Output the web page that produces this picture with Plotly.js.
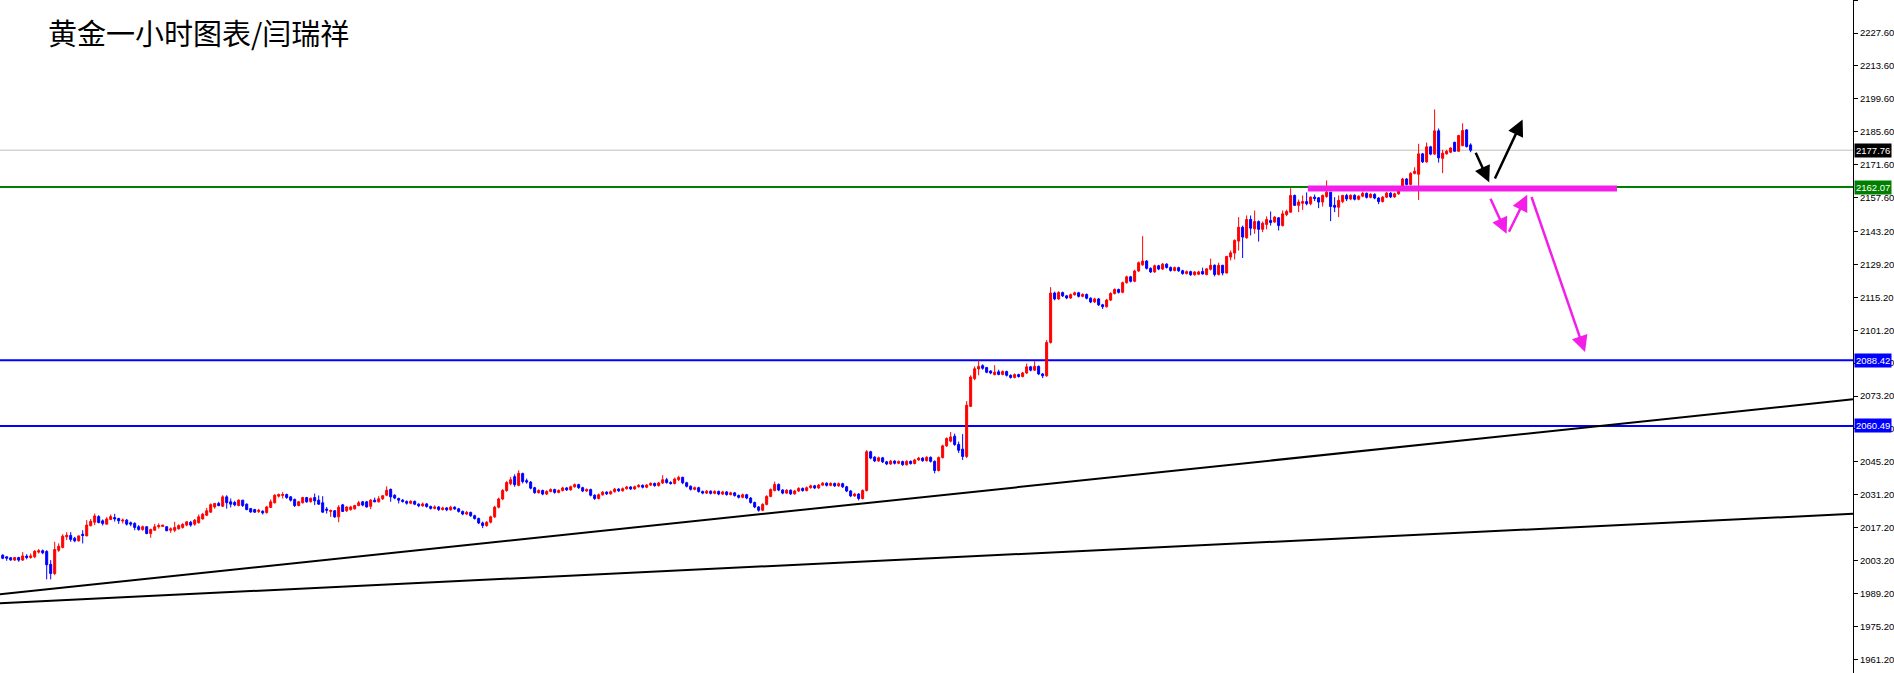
<!DOCTYPE html>
<html>
<head>
<meta charset="utf-8">
<script src="https://cdn.plot.ly/plotly-3.0.1.min.js"></script>
<style>html,body{margin:0;padding:0;background:#fff;}#chart{width:1894px;height:673px;}</style>
</head>
<body>
<div id="chart"></div>
<script>
// ---- Data ----
const chartTitle = "黄金一小时图表/闫瑞祥";
// hourly candles: [open, high, low, close], consecutive bars
const bars_000 = [
[2005.5,2005.9,2003.8,2004.2],[2004.8,2005.1,2003.1,2004.2],[2004.4,2004.7,2003.1,2003.5],[2003.4,2004.7,2003.1,2004.5],
[2004.5,2004.8,2002.7,2003.4],[2003.4,2006.8,2003.1,2005.2],[2005.1,2005.9,2003.7,2004.5],[2004.5,2006.2,2004.0,2005.2],
[2004.8,2007.6,2004.2,2007.2],[2006.8,2008.1,2006.2,2007.4],[2007.4,2007.9,2005.9,2006.5],[2007.1,2007.6,1995.2,2001.4],
[2001.6,2003.4,1995.2,1997.7],[1997.7,2011.2,1997.0,2007.9],[2007.6,2010.5,2006.9,2009.3],[2008.8,2014.4,2008.4,2013.6],
[2013.3,2015.3,2011.9,2014.0],[2013.9,2015.3,2011.2,2012.2],[2012.7,2013.3,2011.0,2011.6],[2011.6,2013.9,2011.3,2013.7],
[2014.4,2016.1,2010.5,2013.9],[2013.7,2020.4,2013.6,2018.3],[2018.0,2020.9,2017.8,2019.9],[2019.5,2023.2,2018.3,2022.2],
[2021.9,2022.5,2019.0,2019.4],[2020.1,2020.7,2018.1,2019.0],[2018.7,2021.7,2018.6,2020.9],[2020.7,2022.8,2020.4,2021.9],
[2021.5,2023.1,2019.8,2020.9],[2021.1,2021.4,2018.8,2020.1],[2020.0,2021.1,2019.0,2020.4],[2020.4,2020.9,2018.1,2018.7],
[2019.3,2019.8,2017.8,2018.7],[2019.0,2019.5,2016.1,2017.3],[2017.6,2018.3,2015.9,2016.4],[2016.4,2018.1,2015.9,2017.6],
[2017.6,2017.7,2014.4,2014.7],[2014.7,2016.8,2012.9,2016.4],[2016.1,2018.8,2015.9,2017.6],[2017.6,2019.0,2016.8,2018.1],
[2017.7,2018.4,2017.6,2018.3],[2017.6,2017.8,2015.7,2015.9],[2016.1,2017.3,2015.0,2016.7],[2016.1,2019.7,2015.3,2017.3],
[2016.7,2018.6,2016.4,2018.1],[2017.3,2019.1,2016.8,2018.6],[2018.3,2019.9,2017.8,2019.7],[2019.5,2020.1,2017.6,2018.3],
[2018.7,2020.9,2018.0,2020.4],[2019.3,2022.8,2019.0,2021.8],[2020.9,2023.5,2020.7,2022.9],[2022.5,2025.6,2022.1,2024.4],
[2023.8,2027.5,2023.5,2027.0],[2026.0,2027.7,2025.3,2027.5],[2027.5,2028.2,2026.3,2026.6],[2026.3,2031.0,2026.0,2030.3],
[2030.3,2031.0,2025.3,2027.8],[2028.2,2029.6,2025.8,2027.2],[2027.9,2028.6,2026.3,2026.9],[2026.6,2029.2,2026.3,2028.9],
[2028.9,2029.0,2026.0,2026.6],[2027.2,2027.5,2024.6,2024.9],[2025.3,2025.6,2023.5,2023.9],[2024.9,2025.2,2023.5,2023.8],
[2024.1,2025.2,2023.4,2024.6],[2024.2,2024.6,2022.8,2023.5],[2023.6,2026.5,2023.2,2026.0],[2025.8,2029.2,2025.5,2028.2],
[2027.8,2031.4,2027.5,2031.0],[2030.6,2031.7,2030.0,2031.3],[2030.9,2032.3,2029.6,2031.3],[2031.3,2031.7,2029.5,2030.0],
[2030.3,2030.6,2028.3,2028.9],[2029.2,2029.6,2026.0,2026.6],[2026.6,2028.6,2026.3,2028.2],[2027.8,2030.3,2027.5,2030.0],
[2030.0,2030.3,2027.8,2028.2],[2028.3,2030.0,2027.8,2029.7],[2030.0,2031.7,2026.8,2028.6],[2028.9,2030.9,2026.9,2027.2],
[2027.8,2030.6,2023.6,2023.8],[2025.1,2026.0,2023.2,2024.6],[2024.1,2024.9,2021.8,2024.5],[2024.4,2024.6,2021.4,2021.8],
[2021.8,2026.8,2019.5,2025.9],[2026.9,2027.3,2023.9,2024.1],[2024.4,2026.3,2023.9,2026.0],[2024.9,2026.5,2024.4,2026.0],
[2025.2,2026.9,2024.9,2026.6],[2026.6,2028.6,2026.3,2027.8],[2028.2,2028.6,2026.3,2026.8],[2028.2,2028.6,2025.8,2026.0],
[2026.3,2029.3,2025.1,2028.9],[2028.9,2030.0,2028.0,2028.2],[2028.2,2030.6,2027.9,2029.5]
];
const bars_095 = [
[2029.5,2031.0,2029.0,2030.8],[2031.0,2034.8,2030.6,2033.1],[2033.5,2033.8,2028.2,2030.3],[2031.0,2031.4,2029.3,2029.8],
[2029.6,2030.0,2027.5,2028.9],[2028.9,2029.4,2027.9,2028.3],[2028.3,2028.8,2027.0,2027.6],[2027.6,2028.9,2027.2,2028.4],
[2028.4,2028.7,2026.8,2027.2],[2027.2,2027.6,2025.9,2026.5],[2026.5,2027.9,2026.1,2027.3],[2027.3,2027.7,2025.7,2026.2],
[2026.2,2026.6,2024.9,2025.4],[2025.4,2026.7,2025.0,2026.0],[2026.0,2026.4,2024.3,2024.9],[2024.9,2026.1,2024.5,2025.6],
[2025.6,2026.0,2024.2,2024.8],[2024.8,2026.5,2024.4,2025.9],[2025.9,2026.3,2024.7,2025.2],[2025.2,2025.6,2023.6,2024.1],
[2024.1,2024.5,2022.5,2023.0],[2023.0,2024.3,2022.6,2023.7],[2023.7,2024.0,2021.8,2022.3],[2022.3,2022.7,2020.6,2021.1],
[2021.1,2021.5,2018.7,2019.2],[2019.2,2019.8,2017.0,2018.1],[2018.1,2020.0,2017.6,2019.5],[2019.5,2022.3,2019.0,2021.8],
[2021.8,2026.5,2021.3,2025.9],[2025.9,2030.0,2025.4,2029.4],[2029.4,2033.6,2028.9,2033.0],[2033.0,2037.0,2032.5,2036.4],
[2035.9,2038.8,2035.2,2037.6],[2038.9,2039.9,2034.6,2035.5],[2035.2,2041.6,2034.8,2040.3],[2040.2,2040.6,2036.0,2036.8],
[2037.2,2038.1,2035.9,2036.6],[2036.6,2037.0,2033.5,2034.0],[2034.2,2034.6,2031.6,2032.1],[2032.1,2033.5,2031.7,2033.0],
[2033.0,2033.4,2031.0,2031.5],[2031.5,2033.1,2031.1,2032.6],[2032.6,2033.9,2032.2,2033.4],[2033.4,2033.8,2031.7,2032.2],
[2032.2,2033.5,2031.8,2033.0],[2033.0,2034.6,2032.6,2034.1],[2034.1,2034.5,2032.8,2033.3],[2033.3,2035.1,2032.9,2034.6],
[2034.6,2036.0,2034.2,2035.5],[2035.5,2035.9,2033.7,2034.2],[2034.2,2034.6,2032.3,2032.8],[2032.8,2033.9,2032.4,2033.4],
[2033.4,2033.8,2030.5,2031.0],[2031.0,2031.4,2029.0,2029.6],[2029.6,2031.7,2029.2,2031.2],[2031.2,2032.8,2030.8,2032.3],
[2032.3,2032.7,2031.1,2031.6],[2031.6,2033.0,2031.2,2032.5],[2032.5,2034.1,2032.1,2033.6],[2033.6,2034.0,2032.4,2032.9],
[2032.9,2034.3,2032.5,2033.8],[2033.8,2035.0,2033.4,2034.5],[2034.5,2034.9,2033.2,2033.7],[2033.7,2035.1,2033.3,2034.6],
[2034.6,2035.7,2034.2,2035.2],[2035.2,2035.6,2033.9,2034.4],[2034.4,2035.8,2034.0,2035.3],[2035.3,2036.5,2034.9,2036.0],
[2036.0,2036.4,2034.6,2035.1],[2035.1,2036.7,2034.7,2036.2],[2036.2,2039.5,2035.8,2037.6],[2037.6,2038.4,2035.9,2036.4],
[2036.4,2037.0,2035.5,2036.0],[2036.0,2038.5,2035.6,2037.9],[2037.6,2039.3,2037.0,2038.6],[2038.6,2038.9,2035.7,2036.3],
[2036.3,2036.7,2034.3,2034.8],[2034.8,2035.2,2033.0,2033.5],[2033.5,2034.7,2033.1,2034.2],[2034.2,2034.6,2032.1,2032.6],
[2032.6,2033.0,2031.4,2031.9],[2031.9,2033.2,2031.5,2032.7],[2032.7,2033.1,2031.3,2031.8],[2031.8,2033.1,2031.4,2032.6],
[2032.6,2033.0,2031.0,2031.5],[2031.5,2032.9,2031.1,2032.4],[2032.4,2032.8,2030.8,2031.3],[2031.3,2032.5,2030.9,2032.0],
[2032.0,2032.4,2030.4,2030.9],[2030.9,2031.3,2029.6,2030.1],[2030.1,2031.7,2029.7,2031.2],[2031.2,2031.6,2029.3,2029.8],
[2029.8,2030.2,2027.4,2027.9],[2027.9,2028.3,2025.5,2026.0],[2026.0,2026.4,2024.0,2024.6],[2024.6,2027.6,2024.2,2027.1],
[2027.1,2031.0,2026.7,2030.5],[2030.5,2033.9,2030.1,2033.4],[2033.0,2036.8,2032.6,2035.6],[2035.6,2036.0,2032.7,2033.2],
[2033.2,2033.6,2031.4,2031.9],[2031.9,2033.6,2031.5,2033.1],[2033.1,2033.5,2031.1,2031.6],[2031.6,2033.3,2031.2,2032.8],
[2032.8,2034.4,2032.4,2033.9],[2033.9,2034.3,2032.5,2033.0],[2033.0,2034.7,2032.6,2034.2],[2034.2,2035.5,2033.8,2035.0],
[2035.0,2035.4,2033.6,2034.1],[2034.1,2035.8,2033.7,2035.3],[2035.3,2036.6,2034.9,2036.1],[2036.1,2036.5,2034.7,2035.2],
[2035.2,2036.5,2034.8,2036.0],[2036.0,2036.4,2034.5,2035.0],[2035.0,2036.4,2034.6,2035.9],[2035.9,2036.3,2034.1,2034.6],
[2034.6,2035.0,2032.3,2032.8],[2032.8,2033.2,2030.2,2030.7],[2030.7,2032.0,2030.3,2031.5],[2031.5,2031.9,2028.8,2029.6],
[2029.6,2033.5,2029.2,2033.0],[2033.0,2050.2,2032.6,2049.5],[2049.5,2049.9,2046.3,2046.8],[2047.2,2047.6,2045.1,2045.6],
[2045.6,2047.4,2045.2,2046.9],[2046.9,2047.3,2044.7,2045.2],[2045.2,2045.6,2043.8,2044.3],[2044.3,2046.0,2043.9,2045.5],
[2045.5,2045.9,2044.1,2044.6],[2044.6,2045.8,2044.2,2045.3],[2045.3,2045.7,2043.5,2044.0],[2044.0,2045.9,2043.6,2045.4],
[2045.4,2045.8,2044.0,2044.5],[2044.5,2046.5,2044.1,2046.0],[2046.0,2047.3,2045.6,2046.8],[2046.8,2047.2,2045.2,2045.7],
[2045.7,2047.6,2045.3,2047.1],[2047.1,2047.5,2044.9,2045.4],[2045.4,2045.8,2040.3,2041.5],[2041.5,2047.5,2041.1,2047.0],
[2047.0,2052.5,2046.6,2052.0],[2052.0,2055.6,2051.5,2055.1],[2054.0,2057.9,2053.5,2055.8],[2056.1,2057.2,2052.0,2052.6],
[2052.6,2053.8,2049.0,2050.1],[2050.6,2057.0,2046.0,2047.5],[2047.5,2071.0,2046.8,2069.3],[2068.8,2082.0,2068.5,2081.3],
[2080.6,2085.8,2079.9,2084.8],[2084.7,2088.4,2082.0,2085.8],[2086.1,2086.7,2084.4,2085.0],[2085.3,2085.6,2082.9,2083.3],
[2083.8,2084.2,2082.5,2083.0],[2082.3,2086.3,2082.0,2083.3],[2083.5,2084.4,2082.0,2082.4],[2082.4,2084.1,2082.0,2083.6],
[2083.6,2084.0,2081.5,2082.0],[2082.0,2082.4,2080.6,2081.1],[2081.1,2082.8,2080.7,2082.3],[2082.3,2082.7,2081.0,2081.5],
[2081.5,2083.5,2081.1,2083.0],[2083.0,2087.0,2082.6,2085.6],[2085.6,2086.0,2083.7,2084.2],[2084.2,2088.0,2083.8,2085.8],
[2085.8,2086.2,2082.1,2082.6],[2082.6,2083.0,2080.8,2081.8],[2081.8,2097.0,2081.4,2096.0],[2096.0,2119.5,2095.5,2117.0],
[2117.0,2117.6,2113.9,2114.5],[2114.5,2117.8,2114.1,2117.2],[2117.2,2117.6,2115.3,2115.8],[2115.8,2116.2,2114.4,2114.9],
[2114.9,2116.8,2114.5,2116.3],[2116.3,2117.6,2115.9,2117.1],[2117.1,2117.5,2115.1,2115.6],[2115.6,2116.9,2115.2,2116.4],
[2116.4,2116.8,2114.3,2114.8],[2114.8,2115.2,2112.7,2113.2],[2113.2,2115.0,2112.8,2114.5],[2114.5,2114.9,2111.5,2112.0],
[2112.0,2112.4,2110.2,2111.2],[2111.2,2114.5,2110.8,2114.0],[2114.0,2117.3,2113.6,2116.8],[2116.8,2119.0,2116.4,2118.5],
[2118.5,2118.9,2116.8,2117.3],[2117.3,2121.9,2116.9,2121.4],[2121.4,2124.4,2121.0,2123.9],[2123.9,2124.3,2121.5,2122.0],
[2122.0,2126.9,2121.6,2126.4],[2126.4,2130.4,2126.0,2129.9],[2129.0,2141.2,2128.6,2130.6],[2130.6,2131.0,2127.0,2127.5],
[2127.5,2127.9,2125.5,2126.0],[2126.0,2129.1,2125.6,2128.6],[2128.6,2129.0,2126.7,2127.2],[2127.2,2129.8,2126.8,2129.3],
[2129.3,2129.7,2127.4,2127.9],[2127.9,2128.3,2126.1,2126.6],[2126.6,2128.3,2126.2,2127.8],[2127.8,2128.2,2126.0,2126.5],
[2126.5,2126.9,2124.8,2125.3],[2125.3,2126.6,2124.9,2126.1],[2126.1,2126.5,2124.3,2124.8],[2124.8,2126.4,2124.4,2125.9],
[2125.0,2126.5,2124.6,2126.0]
];
const bars_300 = [
[2126.2,2127.8,2124.9,2125.1],[2124.9,2127.6,2124.5,2127.3],[2127.1,2131.6,2126.6,2128.8],[2128.8,2129.2,2124.1,2124.9],
[2124.9,2129.9,2124.5,2128.8],[2128.8,2129.0,2124.5,2125.5],[2125.5,2132.7,2125.4,2132.6],[2132.3,2135.1,2130.9,2134.1],
[2134.0,2139.8,2131.3,2139.4],[2139.1,2149.3,2135.1,2145.0],[2145.0,2145.7,2131.9,2140.8],[2140.5,2150.0,2140.1,2148.3],
[2148.3,2150.0,2141.5,2144.6],[2144.3,2152.1,2142.2,2147.4],[2147.4,2147.9,2138.9,2144.1],[2144.1,2147.4,2142.9,2146.7],
[2146.2,2149.6,2144.1,2148.3],[2147.9,2151.7,2145.7,2147.0],[2147.2,2149.7,2146.9,2149.3],[2149.0,2149.3,2143.6,2145.7],
[2145.7,2152.1,2145.3,2150.7],[2150.4,2152.5,2149.7,2151.7],[2151.4,2161.6,2151.1,2158.5],[2158.5,2158.9,2154.1,2154.3],
[2154.3,2156.8,2151.4,2155.7],[2155.2,2158.5,2152.4,2155.9],[2155.9,2159.8,2154.3,2155.0],[2155.0,2158.1,2154.3,2157.8],
[2157.8,2158.9,2156.1,2157.2],[2157.5,2157.8,2153.1,2155.7],[2155.7,2158.9,2153.8,2158.5],[2158.1,2164.9,2157.5,2159.9],
[2159.9,2160.0,2147.6,2153.8],[2154.3,2157.8,2151.4,2153.5],[2153.5,2158.5,2149.3,2156.4],[2155.9,2158.8,2155.2,2158.5],
[2158.5,2159.2,2156.1,2157.0]
];
const bars_337 = [
[2157.0,2158.9,2156.5,2158.6],[2158.6,2159.0,2156.4,2156.9],[2156.9,2158.6,2156.5,2158.2],[2158.2,2160.1,2157.8,2159.4],
[2159.4,2159.8,2157.2,2157.7],[2157.7,2159.5,2157.3,2159.0],[2159.0,2159.4,2156.9,2157.4],[2157.4,2157.8,2154.8,2155.9],
[2155.9,2158.3,2155.5,2157.8],[2157.8,2160.0,2157.4,2159.5],[2159.5,2159.9,2157.4,2157.9],[2157.9,2159.7,2157.5,2159.2],
[2159.2,2162.3,2158.8,2161.8],[2161.8,2166.0,2161.4,2165.5],[2165.5,2165.9,2162.7,2163.2],[2163.2,2168.4,2162.8,2167.9],
[2167.9,2170.5,2167.5,2168.8],[2167.5,2180.5,2156.6,2176.2],[2176.2,2176.6,2172.3,2172.8],[2172.8,2181.0,2172.4,2179.2],
[2179.2,2179.6,2175.6,2176.1],[2176.1,2195.1,2175.7,2186.0],[2186.0,2187.0,2172.5,2174.5]
];
const bars_360 = [
[2174.3,2177.9,2168.0,2176.5],[2176.2,2177.9,2175.9,2177.3],[2176.9,2179.0,2176.5,2178.7],[2181.1,2181.4,2177.2,2177.3],
[2177.3,2184.3,2177.2,2184.0],[2179.7,2189.2,2179.4,2186.1],[2186.4,2186.7,2178.9,2179.3],[2180.0,2180.7,2176.9,2177.76]
];

// horizontal levels
const currentPrice = 2177.76;
const greenLevel = 2162.07;
const blueLevels = [2088.42, 2060.49];
// trend lines: [x0, y0, x1, y1] in bar index / price
const trendLines = [[-0.675, 1988.9, 462.6, 2071.8], [-0.675, 1985.1, 462.6, 2023.1]];
// magenta zone bar
const magentaBar = [326.3, 2161.45, 403.6, 2161.45];
// arrows: [tailX, tailY, headX, headY]
const blackArrows = [[368.1, 2177.3, 371.65, 2164.1], [372.9, 2165.1, 380.0, 2190.8]];
const magentaArrows = [[371.8, 2157.75, 376.0, 2142.2], [376.4, 2142.45, 381.15, 2158.8], [382.1, 2158.5, 395.6, 2091.9]];
// y-axis tick labels
const yTicks = [2241.60, 2227.60, 2213.60, 2199.60, 2185.60, 2171.60, 2157.60, 2143.20, 2129.20, 2115.20, 2101.20,
  2087.20, 2073.20, 2059.20, 2045.20, 2031.20, 2017.20, 2003.20, 1989.20, 1975.20, 1961.20];

// ---- Build ----
const allBars = [].concat(bars_000, bars_095, bars_300, bars_337, bars_360);
const X = allBars.map((r, i) => i);
const O = allBars.map(r => r[0]), H = allBars.map(r => r[1]), L = allBars.map(r => r[2]), C = allBars.map(r => r[3]);

const MAG = '#f41ee9';
const traces = [];
trendLines.forEach(t => traces.push({type: 'scatter', mode: 'lines', x: [t[0], t[2]], y: [t[1], t[3]],
  line: {color: '#000000', width: 2}, hoverinfo: 'skip'}));
traces.push({
  type: 'candlestick', x: X, open: O, high: H, low: L, close: C,
  increasing: {line: {color: '#ff0000', width: 1}, fillcolor: '#ff0000'},
  decreasing: {line: {color: '#0000ff', width: 1}, fillcolor: '#0000ff'},
  whiskerwidth: 0, hoverinfo: 'skip'
});
traces.push({type: 'scatter', mode: 'lines', x: [magentaBar[0], magentaBar[2]], y: [magentaBar[1], magentaBar[3]],
  line: {color: MAG, width: 6}, hoverinfo: 'skip'});

const shapes = [];
shapes.push({type: 'line', xref: 'paper', x0: 0, x1: 1, yref: 'y', y0: currentPrice, y1: currentPrice,
  line: {color: '#c0c0c0', width: 1}, layer: 'below'});
shapes.push({type: 'line', xref: 'paper', x0: 0, x1: 1, yref: 'y', y0: greenLevel, y1: greenLevel,
  line: {color: '#008000', width: 2}, layer: 'below'});
blueLevels.forEach(v => shapes.push({type: 'line', xref: 'paper', x0: 0, x1: 1, yref: 'y', y0: v, y1: v,
  line: {color: '#0000ff', width: 2}, layer: 'below'}));

const lblFont = {family: 'Liberation Sans, Arial, sans-serif', size: 9.5, color: '#ffffff'};
const annotations = [];
function levelLabel(v, bg) {
  annotations.push({xref: 'paper', x: 1, xanchor: 'left', xshift: 1, yref: 'y', y: v, yanchor: 'middle',
    text: v.toFixed(2), showarrow: false, bgcolor: bg, font: lblFont, borderpad: 1});
}
levelLabel(currentPrice, '#000000');
levelLabel(greenLevel, '#008000');
blueLevels.forEach(v => levelLabel(v, '#0000ff'));

function arrow(a, color) {
  annotations.push({xref: 'x', yref: 'y', axref: 'x', ayref: 'y', x: a[2], y: a[3], ax: a[0], ay: a[1],
    showarrow: true, text: '', arrowcolor: color, arrowwidth: 2.5, arrowhead: 2, arrowsize: 1.3, standoff: 0, startstandoff: 0});
}
blackArrows.forEach(a => arrow(a, '#000000'));
magentaArrows.forEach(a => arrow(a, MAG));

annotations.push({xref: 'paper', yref: 'paper', x: 46 / 1853, y: 1 - 31.5 / 673, xanchor: 'left', yanchor: 'middle',
  text: chartTitle, showarrow: false, font: {family: 'Noto Sans CJK SC, sans-serif', size: 29, color: '#000000'}});

const layout = {
  width: 1894, height: 673,
  margin: {l: 0, r: 41, t: 0, b: 0, pad: 0},
  paper_bgcolor: '#ffffff', plot_bgcolor: '#ffffff',
  showlegend: false,
  boxgap: 0.5, boxgroupgap: 0,
  xaxis: {range: [-0.675, 462.6], visible: false, showgrid: false, zeroline: false, rangeslider: {visible: false}, fixedrange: true},
  yaxis: {range: [1955.38, 2241.65], side: 'right', showgrid: false, zeroline: false, showline: true, linecolor: '#000000', linewidth: 1,
    ticks: 'outside', ticklen: 4, tickcolor: '#000000', tickwidth: 1,
    tickvals: yTicks, ticktext: yTicks.map(v => v.toFixed(2)),
    tickfont: {family: 'Liberation Sans, Arial, sans-serif', size: 9.5, color: '#000000'}, fixedrange: true},
  shapes: shapes, annotations: annotations
};
Plotly.newPlot('chart', traces, layout, {displayModeBar: false, staticPlot: true});
</script>
</body>
</html>
